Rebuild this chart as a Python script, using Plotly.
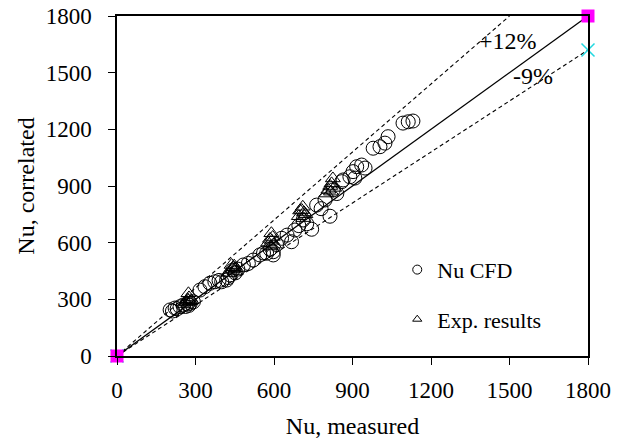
import plotly.graph_objects as go

# Nusselt number: CFD prediction vs correlation
cfd_measured = [203, 212, 222, 230, 241, 253, 262, 270, 280, 292, 275,
                317, 336, 355, 374, 390, 400, 419, 425, 432, 443, 452, 462,
                483, 502, 521, 546, 560, 572, 585, 597, 597, 610,
                629, 650, 667, 680, 695, 711, 725, 744, 763, 780, 795, 814,
                826, 840, 859, 864, 890, 902, 909, 916, 935, 948,
                979, 1005, 1024, 1036, 1093, 1113, 1131]
cfd_correlated = [244, 238, 254, 250, 261, 270, 262, 275, 280, 287, 268,
                  349, 367, 385, 393, 400, 393, 402, 415, 429, 455, 440, 460,
                  482, 490, 508, 535, 545, 544, 565, 552, 535, 590,
                  623, 640, 605, 667, 690, 720, 700, 671, 799, 780, 826, 740,
                  879, 860, 923, 932, 949, 976, 942, 1002, 1011, 995,
                  1100, 1108, 1127, 1161, 1233, 1240, 1244]

exp_measured = [255, 265, 270, 275, 273, 280, 285,
                430, 438, 442, 445, 450, 448, 455,
                578, 585, 590, 592, 595, 600, 588,
                695, 700, 706, 710, 715, 720, 712,
                800, 808, 815, 820, 825, 818, 830]
exp_correlated = [275, 285, 300, 310, 332, 290, 295,
                  440, 482, 460, 470, 450, 478, 465,
                  600, 620, 650, 610, 630, 590, 580,
                  740, 770, 773, 790, 760, 750, 730,
                  860, 880, 900, 914, 940, 870, 890]

# reference lines
parity_x = [0, 1800]
parity_y = [0, 1800]
upper_x = [0, 1500]
upper_y = [0, 1800]
lower_x = [0, 1800]
lower_y = [0, 1620]

ticks = [0, 300, 600, 900, 1200, 1500, 1800]
font_family = "Liberation Serif, Times New Roman, serif"
cyan = "#22d8e0"

fig = go.Figure()

fig.add_trace(go.Scatter(x=upper_x, y=upper_y, mode="lines",
                         line=dict(color="black", width=1.1, dash="4px,3px"),
                         showlegend=False, cliponaxis=False))
fig.add_trace(go.Scatter(x=lower_x, y=lower_y, mode="lines+markers",
                         line=dict(color="black", width=1.1, dash="4px,3px"),
                         marker=dict(symbol="x-thin-open", size=13, color=cyan,
                                     line=dict(color=cyan, width=1.5)),
                         showlegend=False, cliponaxis=False))
fig.add_trace(go.Scatter(x=cfd_measured, y=cfd_correlated, mode="markers",
                         marker=dict(symbol="circle-open", size=14,
                                     color="black", line=dict(width=1)),
                         showlegend=False))
fig.add_trace(go.Scatter(x=exp_measured, y=exp_correlated, mode="markers",
                         marker=dict(symbol="triangle-up-open", size=13,
                                     color="black", line=dict(width=1)),
                         showlegend=False))
fig.add_trace(go.Scatter(x=parity_x, y=parity_y, mode="lines+markers",
                         line=dict(color="black", width=1.3),
                         marker=dict(symbol="square", size=13, color="#ff00ff"),
                         showlegend=False, cliponaxis=False))

# legend entries
fig.add_trace(go.Scatter(x=[None], y=[None], mode="markers", name="Nu CFD",
                         legendgroup="a",
                         marker=dict(symbol="circle-open", size=9,
                                     color="black", line=dict(width=1))))
fig.add_trace(go.Scatter(x=[None], y=[None], mode="markers", name="Exp. results",
                         legendgroup="b",
                         marker=dict(symbol="triangle-up-open", size=8,
                                     color="black", line=dict(width=1))))

axis_common = dict(
    range=[0, 1800], tickvals=ticks, ticks="outside", ticklen=7,
    tickcolor="black", tickwidth=1.3, showline=True, linecolor="black",
    linewidth=1.5, mirror=True, showgrid=False, zeroline=False,
    automargin=False,
    tickfont=dict(family=font_family, size=23, color="black"),
)

fig.update_layout(
    width=629, height=444,
    margin=dict(l=117, r=41, t=16, b=88, autoexpand=False),
    plot_bgcolor="white", paper_bgcolor="white",
    font=dict(family=font_family, size=23, color="black"),
    xaxis=dict(**axis_common, ticklabelstandoff=6,
               title=dict(text="Nu, measured", standoff=15,
                          font=dict(family=font_family, size=24))),
    yaxis=dict(**axis_common, ticklabelstandoff=12,
               title=dict(text="Nu, correlated", standoff=4,
                          font=dict(family=font_family, size=24))),
    legend=dict(x=0.595, y=0.18, xanchor="left", yanchor="middle",
                bgcolor="rgba(0,0,0,0)", tracegroupgap=18,
                itemwidth=30,
                font=dict(family=font_family, size=22, color="black")),
    annotations=[
        dict(x=1494, y=1670, text="+12%", showarrow=False,
             font=dict(family=font_family, size=24, color="black")),
        dict(x=1590, y=1480, text="-9%", showarrow=False,
             font=dict(family=font_family, size=24, color="black")),
    ],
)

fig.write_html("out.html")
